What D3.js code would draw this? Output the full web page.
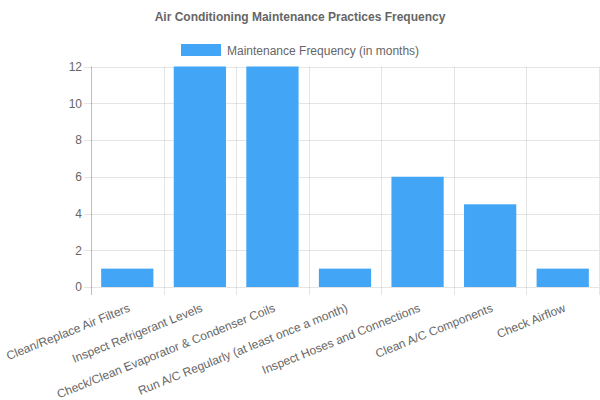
<!DOCTYPE html>
<html>
<head>
<meta charset="utf-8">
<script src="https://cdn.jsdelivr.net/npm/d3@7"></script>
<style>
  body { margin: 0; background: #fff; }
  text { font-family: "Liberation Sans", Arial, Helvetica, sans-serif; }
</style>
</head>
<body>
<script>
const categories = [
    'Clean/Replace Air Filters',
    'Inspect Refrigerant Levels',
    'Check/Clean Evaporator & Condenser Coils',
    'Run A/C Regularly (at least once a month)',
    'Inspect Hoses and Connections',
    'Clean A/C Components',
    'Check Airflow'
];
const frequency = [1, 12, 12, 1, 6, 4.5, 1];
const yTicks = [0, 2, 4, 6, 8, 10, 12];
const seriesName = 'Maintenance Frequency (in months)';
const chartTitle = 'Air Conditioning Maintenance Practices Frequency';

const width = 600, height = 400;
const plotLeft = 91, plotRight = 599, plotTop = 66.5, plotBottom = 287;
const barColor = '#42a5f5';
const textColor = '#666';
const gridColor = 'rgba(0,0,0,0.1)';

const svg = d3.select('body')
    .append('svg')
    .attr('width', width)
    .attr('height', height);

// Escalas
const xScale = d3.scaleBand()
    .domain(categories)
    .range([plotLeft, plotRight]);

const yScale = d3.scaleLinear()
    .domain([0, 12])
    .range([plotBottom, plotTop]);

// Título
svg.append('text')
    .attr('x', width / 2)
    .attr('y', 21)
    .attr('text-anchor', 'middle')
    .attr('font-size', 12)
    .attr('font-weight', 'bold')
    .attr('fill', textColor)
    .text(chartTitle);

// Leyenda
const legend = svg.append('g');
legend.append('rect')
    .attr('x', 181).attr('y', 44)
    .attr('width', 40).attr('height', 12)
    .attr('fill', barColor);
legend.append('text')
    .attr('x', 227).attr('y', 54.5)
    .attr('font-size', 12)
    .attr('fill', textColor)
    .text(seriesName);

// Rejilla horizontal
svg.append('g')
    .selectAll('line')
    .data(yTicks)
    .join('line')
    .attr('x1', plotLeft - 7)
    .attr('x2', plotRight)
    .attr('y1', d => Math.round(yScale(d)) + 0.5)
    .attr('y2', d => Math.round(yScale(d)) + 0.5)
    .attr('stroke', gridColor);

// Rejilla vertical (bordes de categorías)
const edges = categories.map(c => xScale(c)).concat([plotRight]);
svg.append('g')
    .selectAll('line')
    .data(edges)
    .join('line')
    .attr('x1', d => Math.round(d) + 0.5)
    .attr('x2', d => Math.round(d) + 0.5)
    .attr('y1', plotTop)
    .attr('y2', plotBottom + 8)
    .attr('stroke', (d, i) => i === 0 ? 'rgba(0,0,0,0.25)' : gridColor);

// Eje Y
const yAxis = svg.append('g')
    .attr('transform', `translate(${plotLeft - 9},0)`)
    .call(d3.axisLeft(yScale).tickValues(yTicks).tickSize(0).tickPadding(0));
yAxis.select('.domain').remove();
yAxis.selectAll('text')
    .attr('font-size', 12)
    .attr('fill', textColor)
    .attr('font-family', '"Liberation Sans", Arial, sans-serif');

// Barras
const barW = xScale.bandwidth() * 0.72;
svg.append('g')
    .selectAll('rect')
    .data(frequency)
    .join('rect')
    .attr('x', (d, i) => xScale(categories[i]) + (xScale.bandwidth() - barW) / 2)
    .attr('y', d => yScale(d))
    .attr('width', barW)
    .attr('height', d => yScale(0) - yScale(d))
    .attr('fill', barColor);

// Etiquetas eje X (rotadas, alineadas a la derecha en el centro de la categoría)
svg.append('g')
    .selectAll('text')
    .data(categories)
    .join('text')
    .attr('transform', d => `translate(${xScale(d) + xScale.bandwidth() / 2 + 2},${plotBottom + 20}) rotate(-22)`)
    .attr('text-anchor', 'end')
    .attr('dy', '0.35em')
    .attr('font-size', 12)
    .attr('fill', textColor)
    .text(d => d);
</script>
</body>
</html>
